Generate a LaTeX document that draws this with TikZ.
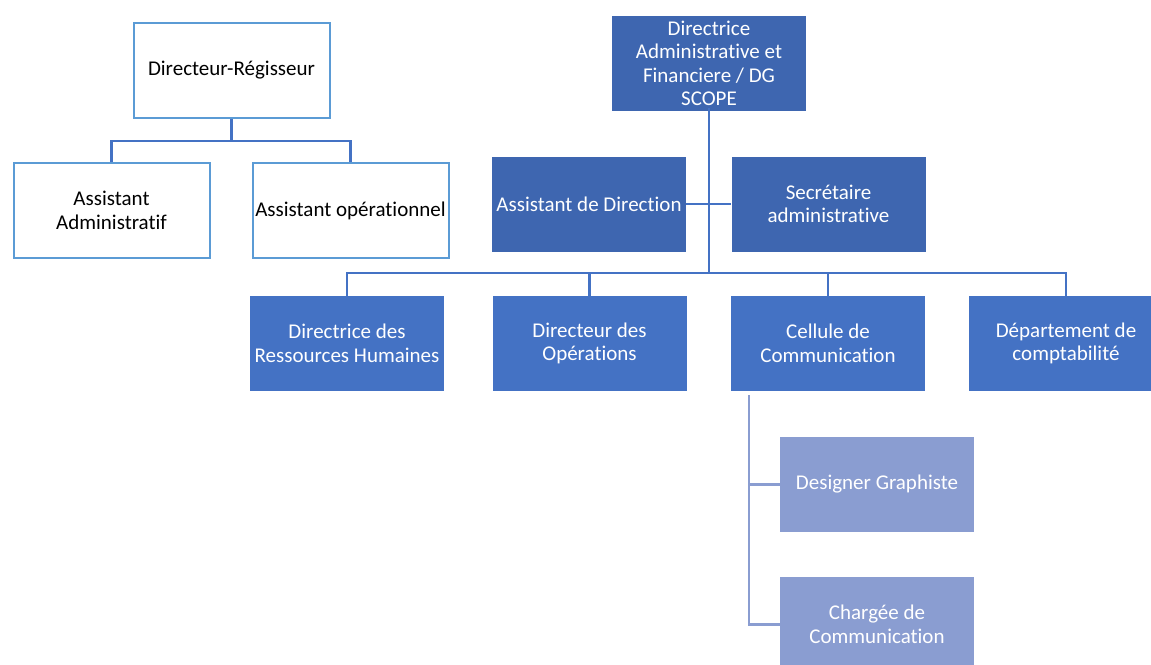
\documentclass[tikz,border=0pt]{standalone}
\usepackage{fontspec}
\setmainfont{Carlito}[Ligatures=NoCommon]
\usetikzlibrary{calc,positioning}

\definecolor{boxline}{HTML}{5B9BD5}
\definecolor{darkblue}{HTML}{3E66B0}
\definecolor{midblue}{HTML}{4472C4}
\definecolor{lightblue}{HTML}{8A9DD1}

\begin{document}
\begin{tikzpicture}[x=1pt, y=-1pt,
    every node/.style={font=\fontsize{21}{23.5}\selectfont, align=center, inner sep=2pt},
    whitebox/.style={draw=boxline, line width=2pt, fill=white, text=black,
        minimum width=196pt, minimum height=95pt},
    darkbox/.style={fill=darkblue, text=white, minimum width=194pt, minimum height=95pt},
    midbox/.style={fill=midblue, text=white, minimum width=194pt, minimum height=95pt},
    lightbox/.style={fill=lightblue, text=white, minimum width=194pt, minimum height=95pt},
    link/.style={draw=midblue, line width=2.2pt},
    sublink/.style={draw=lightblue, line width=2.2pt}]
    \useasboundingbox (0,0) rectangle (1151,664);
    \clip (0,0) rectangle (1151,664);

    % left chart
    \node[whitebox] (dirreg) at (231.5,70.5) {Directeur-Régisseur};
    \node[whitebox] (assadm) at (111.5,210.5) {Assistant\\Administratif};
    \node[whitebox] (assop) at (350.5,210.5) {Assistant opérationnel};
    \coordinate (j1) at (231.5,141);
    \draw[link] (dirreg.south) -- (j1);
    \draw[link] (assadm.north) |- (j1) -| (assop.north);

    % right chart
    \node[darkbox] (dg) at (709,63.5) {Directrice\\Administrative et\\Financiere / DG\\SCOPE};
    \node[darkbox] (assdir) at (589,204) {Assistant de Direction};
    \node[darkbox] (secr) at (828.5,204) {Secrétaire\\administrative};

    \node[midbox] (drh) at (347,343.5) {Directrice des\\Ressources Humaines};
    \node[midbox] (dirop) at (589.5,343.5) {Directeur des\\Opérations};
    \node[midbox] (cell) at (828,343.5) {Cellule de\\Communication};
    \node[midbox] (compta) at (1066,343.5) {Département de\\comptabilité};

    \node[lightbox] (design) at (877,484.5) {Designer Graphiste};
    \node[lightbox] (charg) at (877,624.5) {Chargée de\\Communication};

    \coordinate (j2) at (709,273);
    \draw[link] ([yshift=3pt]dg.south) -- (j2);
    \draw[link] (assdir.east) -- (secr.west);
    \draw[link] (drh.north) |- (j2) -| (compta.north);
    \draw[link] (dirop.north) -- (dirop.north |- j2);
    \draw[link] (cell.north) -- (cell.north |- j2);

    \coordinate (cs) at (749,395);
    \draw[sublink] (cs) |- (design.west);
    \draw[sublink] (cs) |- (charg.west);
\end{tikzpicture}
\end{document}
